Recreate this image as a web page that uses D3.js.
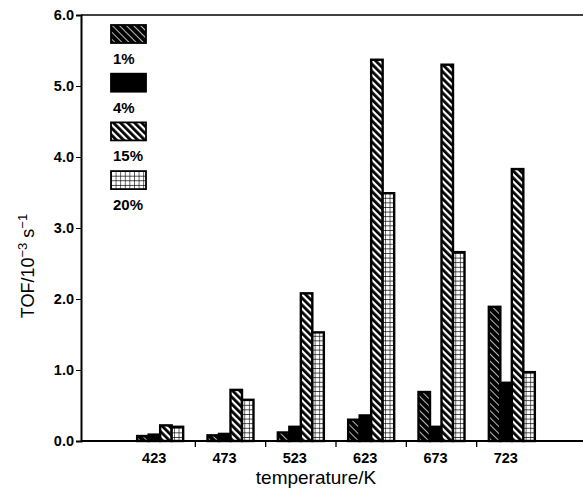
<!DOCTYPE html>
<html>
<head>
<meta charset="utf-8">
<script src="https://cdn.jsdelivr.net/npm/d3@7"></script>
<style>
  body { margin: 0; background: #fff; }
  svg { display: block; font-family: "Liberation Sans", Arial, sans-serif; }
</style>
</head>
<body>
<div id="chart"></div>
<script>
// values (TOF / 10^-3 s^-1)
const temps = ["423", "473", "523", "623", "673", "723"];
const loadings = ["1%", "4%", "15%", "20%"];
const tof1 = [0.07, 0.08, 0.12, 0.30, 0.69, 1.89];
const tof4 = [0.09, 0.10, 0.20, 0.36, 0.20, 0.82];
const tof15 = [0.22, 0.72, 2.08, 5.37, 5.30, 3.83];
const tof20 = [0.20, 0.58, 1.53, 3.49, 2.66, 0.97];
const yTicks = [0, 1, 2, 3, 4, 5, 6];

const series = [tof1, tof4, tof15, tof20];
const fills = ["url(#hatch1)", "#000", "url(#hatch15)", "url(#grid20)"];

//-----------------------------SVG------------------------------//
const width = 583;
const height = 492;
const svg = d3.select("#chart").append("svg")
    .attr("width", width)
    .attr("height", height);

// patterns
const defs = svg.append("defs");

const p1 = defs.append("pattern")
    .attr("id", "hatch1")
    .attr("patternUnits", "userSpaceOnUse")
    .attr("width", 5).attr("height", 5)
    .attr("patternTransform", "rotate(-45)");
p1.append("rect").attr("width", 5).attr("height", 5).attr("fill", "#000");
p1.append("rect").attr("x", 0).attr("width", 1).attr("height", 5).attr("fill", "#bbb");

const p15 = defs.append("pattern")
    .attr("id", "hatch15")
    .attr("patternUnits", "userSpaceOnUse")
    .attr("width", 5).attr("height", 5)
    .attr("patternTransform", "rotate(-45)");
p15.append("rect").attr("width", 5).attr("height", 5).attr("fill", "#fff");
p15.append("rect").attr("width", 2.8).attr("height", 5).attr("fill", "#000");

const p20 = defs.append("pattern")
    .attr("id", "grid20")
    .attr("patternUnits", "userSpaceOnUse")
    .attr("width", 4.6).attr("height", 4.6);
p20.append("rect").attr("width", 4.6).attr("height", 4.6).attr("fill", "#fff");
p20.append("path").attr("d", "M0,0H4.6M0,0V4.6")
    .attr("stroke", "#000").attr("stroke-width", 1.2).attr("fill", "none");

//----------------------------SCALES----------------------------//
const x0 = 81, x1 = 583, yTop = 15, yBot = 441;
const xScale = d3.scaleBand().domain(temps).range([125, 547]);
const xInner = d3.scaleBand().domain(loadings).range([0, 46]);
const yScale = d3.scaleLinear().domain([0, 6]).range([yBot, yTop]);

//----------------------------BARS------------------------------//
const groups = svg.selectAll("g.grp")
    .data(temps)
    .enter()
    .append("g")
    .attr("class", "grp")
    .attr("transform", function(d) {
        return "translate(" + (xScale(d) + xScale.bandwidth() / 2 - 23) + ",0)";
    });

groups.selectAll("rect")
    .data(function(d, i) {
        return loadings.map(function(k, j) { return { key: k, j: j, v: series[j][i] }; });
    })
    .enter()
    .append("rect")
    .attr("x", function(d) { return xInner(d.key); })
    .attr("y", function(d) { return yScale(d.v); })
    .attr("width", xInner.bandwidth())
    .attr("height", function(d) { return yBot - yScale(d.v); })
    .attr("fill", function(d) { return fills[d.j]; })
    .attr("stroke", "#000")
    .attr("stroke-width", 2.4);

//-----------------------------AXES-----------------------------//
// top frame line
svg.append("line")
    .attr("x1", x0).attr("x2", x1).attr("y1", yTop).attr("y2", yTop)
    .attr("stroke", "#000").attr("stroke-width", 1.5);

const yaxis = d3.axisLeft(yScale)
    .tickValues(yTicks)
    .tickSize(5)
    .tickFormat(d3.format(".1f"));

svg.append("g")
    .attr("transform", "translate(" + x0 + ",0)")
    .call(yaxis)
    .call(function(g) {
        g.select(".domain").attr("stroke-width", 2);
        g.selectAll("text")
            .attr("font-size", 14.5)
            .attr("font-weight", "bold")
            .attr("x", -7)
            .attr("fill", "#000");
    });

// x axis: line plus ticks between groups
svg.append("line")
    .attr("x1", x0).attr("x2", x1).attr("y1", yBot).attr("y2", yBot)
    .attr("stroke", "#000").attr("stroke-width", 2);

svg.selectAll("line.xtick")
    .data(temps.slice(1))
    .enter()
    .append("line")
    .attr("class", "xtick")
    .attr("x1", function(d) { return xScale(d); })
    .attr("x2", function(d) { return xScale(d); })
    .attr("y1", yBot).attr("y2", yBot + 6)
    .attr("stroke", "#000").attr("stroke-width", 1.3);

svg.selectAll("text.xlab")
    .data(temps)
    .enter()
    .append("text")
    .attr("class", "xlab")
    .attr("x", function(d) { return xScale(d) + xScale.bandwidth() / 2 - 6; })
    .attr("y", 463)
    .attr("text-anchor", "middle")
    .attr("font-size", 14.5)
    .attr("font-weight", "bold")
    .text(function(d) { return d; });

svg.append("text")
    .attr("x", 316)
    .attr("y", 484)
    .attr("text-anchor", "middle")
    .attr("font-size", 19)
    .text("temperature/K");

const ylab = svg.append("text")
    .attr("transform", "translate(34,266) rotate(-90)")
    .attr("text-anchor", "middle")
    .attr("font-size", 18);
ylab.append("tspan").text("TOF/10");
ylab.append("tspan").attr("dy", -7).attr("font-size", 13).text("\u22123");
ylab.append("tspan").attr("dy", 7).text(" s");
ylab.append("tspan").attr("dy", -7).attr("font-size", 13).text("\u22121");

//----------------------------LEGEND----------------------------//
const legend = svg.selectAll("g.leg")
    .data(loadings)
    .enter()
    .append("g")
    .attr("class", "leg")
    .attr("transform", function(d, i) { return "translate(111," + (25 + i * 48.7) + ")"; });

legend.append("rect")
    .attr("width", 35)
    .attr("height", 18)
    .attr("fill", function(d, i) { return fills[i]; })
    .attr("stroke", "#000")
    .attr("stroke-width", 1.8);

legend.append("text")
    .attr("x", 2)
    .attr("y", 39)
    .attr("font-size", 15)
    .attr("font-weight", "bold")
    .text(function(d) { return d; });
</script>
</body>
</html>
